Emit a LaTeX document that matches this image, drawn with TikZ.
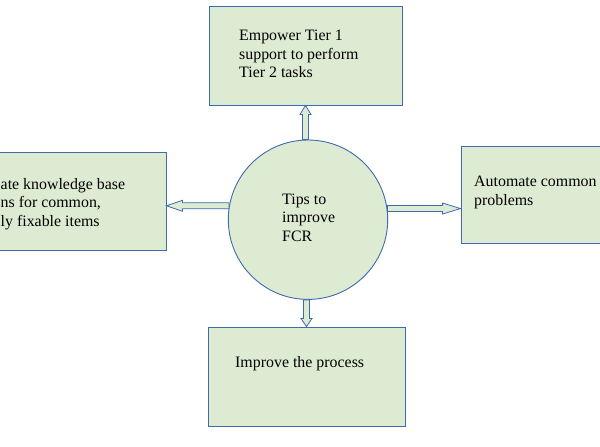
\documentclass[tikz,border=0pt]{standalone}
\usepackage{fontspec}
\setmainfont{Liberation Serif}
\usepackage{xcolor}
\usetikzlibrary{calc}
\definecolor{verdino}{RGB}{222,235,211}
\definecolor{bordo}{RGB}{62,106,176}
% freccia a blocco: da #1 a #2, punta lunga #3
\newcommand{\freccia}[3]{%
    \coordinate (punta) at ($(#2)!#3!(#1)$);
    \draw[blocco] ($(#1)!\gambo pt!90:(#2)$) -- ($(punta)!\gambo pt!-90:(#1)$) -- ($(punta)!\testa pt!-90:(#1)$) -- (#2) -- ($(punta)!\testa pt!90:(#1)$) -- ($(punta)!\gambo pt!90:(#1)$) -- ($(#1)!\gambo pt!-90:(#2)$) -- cycle;
}

\begin{document}
\begin{tikzpicture}[x = 1pt, y = -1pt, font = \fontsize{15.9}{18.5}\selectfont,
    scatola/.style = {draw = bordo, fill = verdino, line width = 0.9pt, minimum width = 193pt, minimum height = 99pt, inner sep = 0pt},
    cerchio/.style = {circle, draw = bordo, fill = verdino, line width = 0.9pt, minimum size = 159.4pt, inner sep = 0pt},
    testo/.style = {anchor = north west, inner sep = 0pt, align = left},
    blocco/.style = {draw = bordo, fill = verdino, line width = 0.8pt, line join = miter}]
    % Parametri
    \pgfmathsetmacro{\gambo}{3}
    \pgfmathsetmacro{\testa}{5.5}
    % Riquadro
    \useasboundingbox (0,0) rectangle (600,447);
    \clip (0,0) rectangle (600,447);
    % Caselle
    \node[scatola] (alto) at (305.5,55.5) {};
    \node[scatola, minimum height = 98pt] (sinistra) at (69.5,201) {};
    \node[scatola, minimum height = 97pt] (destra) at (557.5,194.5) {};
    \node[scatola, minimum width = 197pt] (basso) at (306.5,376.5) {};
    \node[cerchio] (c) at (308,219.7) {};
    % Testi
    \node[testo] (tc) at (282,193.3) {Tips to\\improve\\FCR};
    \node[testo] (talto) at (239,30.2) {Empower Tier 1\\support to perform\\Tier 2 tasks};
    \node[testo] (tsinistra) at (0.5,178.2) {ate knowledge base\\ns for common,\\ly fixable items};
    \node[testo] (tdestra) at (474,176.2) {Automate common\\problems};
    \node[testo] (tbasso) at (235,356.3) {Improve the process};
    % Frecce
    \coordinate (su) at (c.north -| alto.south);
    \coordinate (giu) at (c.south -| basso.north);
    \coordinate (fsx) at (c.170 -| sinistra.east);
    \coordinate (fdx) at (c.8 -| destra.west);
    \freccia{su}{alto.south}{9pt}
    \freccia{giu}{basso.north}{8pt}
    \freccia{c.170}{fsx}{16pt}
    \freccia{c.8}{fdx}{18pt}
\end{tikzpicture}
\end{document}
